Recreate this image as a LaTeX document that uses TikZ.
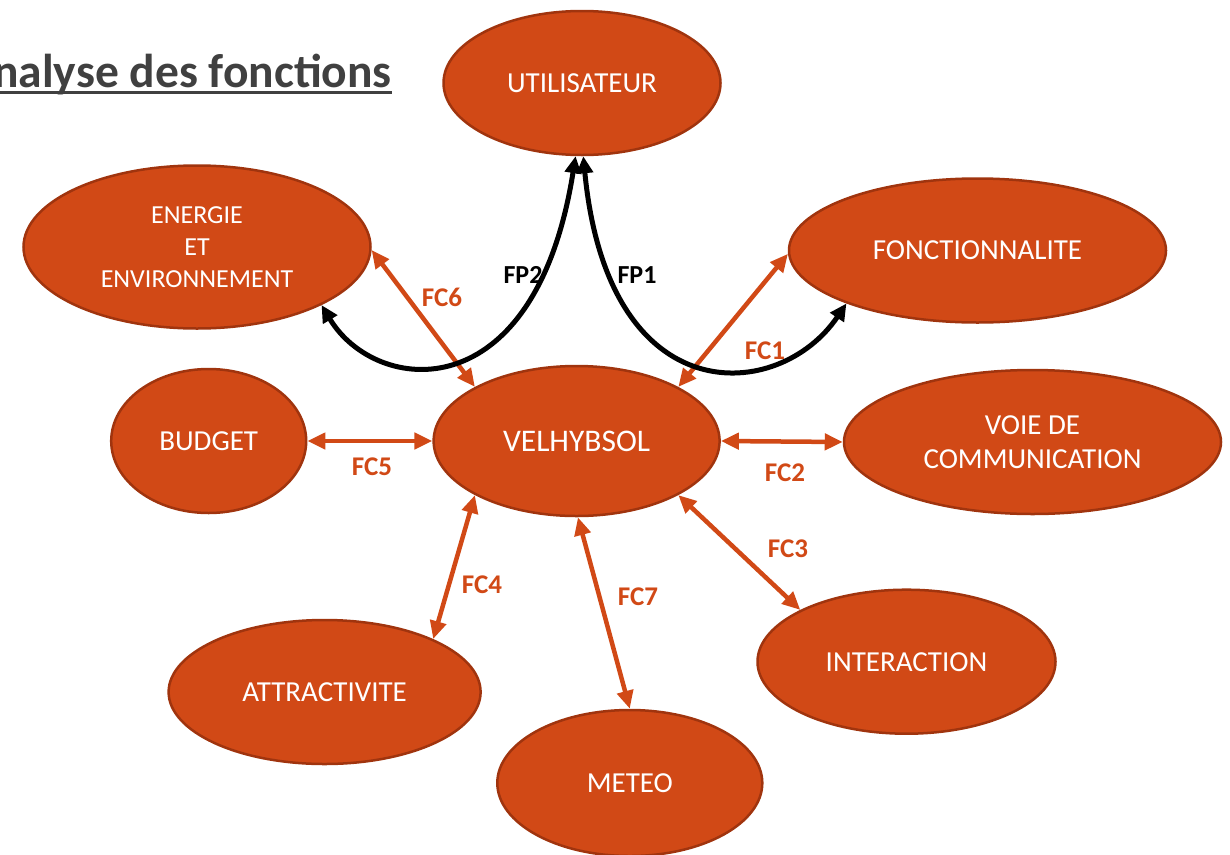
\documentclass[tikz,border=0pt]{standalone}
\usepackage{fontspec}
\setmainfont{Carlito}
\usetikzlibrary{shapes.geometric,arrows.meta}

\definecolor{rouille}{RGB}{209,73,22}
\definecolor{rouillebord}{RGB}{160,52,14}
\definecolor{titregris}{RGB}{64,64,64}

\begin{document}
\begin{tikzpicture}
  [x=1pt, y=-1pt,
   every node/.style={inner sep=0pt},
   bulle/.style={ellipse, fill=rouille, draw=rouillebord, line width=2.5pt, text=white,
                 align=center, font=\fontsize{29}{34}\selectfont},
   fcline/.style={rouille, line width=4.5pt, >={Triangle[length=18pt,width=16pt]}, <->},
   fpline/.style={black, line width=5pt, >={Triangle[length=17pt,width=16pt]}, <->},
   fclabel/.style={text=rouille, font=\fontsize{27}{27}\bfseries\selectfont},
   fplabel/.style={text=black, font=\fontsize{26}{26}\bfseries\selectfont},
   titre/.style={text=titregris, font=\fontsize{47.5}{47.5}\bfseries\selectfont}]
  \useasboundingbox (0,0) rectangle (1230,854);

  \node[titre, anchor=base east] (titre) at (392,87) {Analyse des fonctions};
  \draw[titregris, line width=3pt] ([yshift=-5.5pt]titre.base west) -- ([yshift=-5.5pt]titre.base east);

  \node[bulle, minimum width=277pt, minimum height=144pt] (utilisateur) at (582,83) {UTILISATEUR};
  \node[bulle, minimum width=347pt, minimum height=163pt, font=\fontsize{26}{32}\selectfont]
     (energie) at (197,247) {ENERGIE\\ET\\ENVIRONNEMENT};
  \node[bulle, minimum width=377pt, minimum height=144pt] (fonction) at (977.5,250.5) {FONCTIONNALITE};
  \node[bulle, minimum width=195pt, minimum height=144pt] (budget) at (208.7,441) {BUDGET};
  \node[bulle, minimum width=286pt, minimum height=150pt, font=\fontsize{31.5}{34}\selectfont]
     (velhybsol) at (576.6,441) {VELHYBSOL};
  \node[bulle, minimum width=377pt, minimum height=144pt] (voie) at (1032.5,442) {VOIE DE\\COMMUNICATION};
  \node[bulle, minimum width=298pt, minimum height=144pt] (interaction) at (906.5,661.7) {INTERACTION};
  \node[bulle, minimum width=312pt, minimum height=144pt] (attract) at (324.6,692) {ATTRACTIVITE};
  \node[bulle, minimum width=265pt, minimum height=146pt] (meteo) at (629.8,783) {METEO};

  \draw[fcline] (energie.-1) -- (velhybsol.152);
  \draw[fcline] (fonction.181) -- (velhybsol.28);
  \draw[fcline] (budget.east) -- (velhybsol.west);
  \draw[fcline] (velhybsol.east) -- (voie.west);
  \draw[fcline] (velhybsol.-28) -- (interaction.154);
  \draw[fcline] (velhybsol.-152) -- (attract.26);
  \draw[fcline] (velhybsol.-89) -- (meteo.north);

  \draw[fpline] (energie.-25) .. controls +(-59:105pt) and +(-99:260pt) .. (utilisateur.-95);
  \draw[fpline] (utilisateur.-89) .. controls +(-84.5:260pt) and +(-124:120pt) .. (fonction.202);

  \node[fclabel] (fc6) at (442,297) {FC6};
  \node[fclabel] (fc1) at (765,351) {FC1};
  \node[fclabel] (fc5) at (372,467) {FC5};
  \node[fclabel] (fc2) at (785,473) {FC2};
  \node[fclabel] (fc3) at (788,548.5) {FC3};
  \node[fclabel] (fc4) at (482,585) {FC4};
  \node[fclabel] (fc7) at (638,597) {FC7};
  \node[fplabel] (fp2) at (523,275) {FP2};
  \node[fplabel] (fp1) at (637,275) {FP1};
\end{tikzpicture}
\end{document}
